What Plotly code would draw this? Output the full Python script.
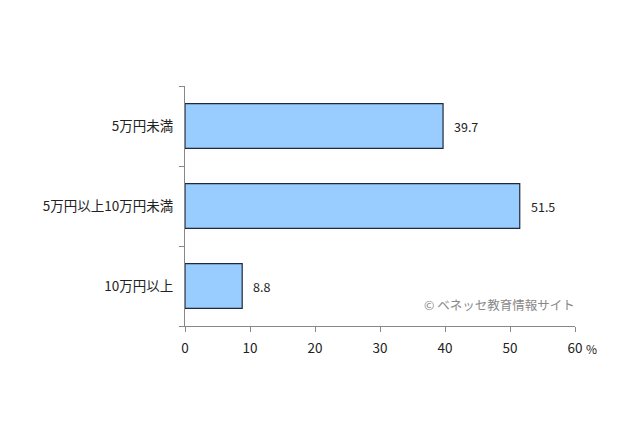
import plotly.graph_objects as go

categories = ["5万円未満", "5万円以上10万円未満", "10万円以上"]
values = [39.7, 51.5, 8.8]
value_labels = ["39.7", "51.5", "8.8"]
x_ticks = [0, 10, 20, 30, 40, 50, 60]

fig = go.Figure()
fig.add_trace(go.Bar(
    y=categories, x=values, orientation="h",
    marker=dict(color="#99CCFF", line=dict(color="#1f2a3a", width=1.2)),
    width=0.56,
))
for c, v, t in zip(categories, values, value_labels):
    fig.add_annotation(x=v, y=c, text=t, showarrow=False, xanchor="left", xshift=9,
                       font=dict(size=12.5, color="#222222"))
fig.update_layout(
    width=640, height=426,
    margin=dict(l=177, r=73, t=78, b=108, autoexpand=False),
    paper_bgcolor="white", plot_bgcolor="white",
    font=dict(family="Noto Sans CJK JP, sans-serif", size=13, color="#222222"),
    showlegend=False,
)
fig.update_xaxes(
    range=[0, 60], tickvals=x_ticks, ticktext=[str(v) for v in x_ticks],
    showgrid=False, zeroline=False, showline=True, linecolor="#888888", linewidth=1,
    ticks="outside", ticklen=5, tickcolor="#888888", tickfont=dict(size=13.5, color="#222222"),
    ticklabelstandoff=5, automargin=False,
)
fig.update_yaxes(
    categoryorder="array", categoryarray=categories[::-1],
    showgrid=False, zeroline=False, showline=True, linecolor="#888888", linewidth=1,
    ticks="outside", ticklen=5, tickcolor="#888888", tickson="boundaries",
    tickfont=dict(size=13.5, color="#222222"), ticklabelstandoff=8, automargin=False,
)
fig.add_annotation(x=60, y=0, xref="x", yref="paper", text="%", showarrow=False,
                   xanchor="left", yanchor="top", xshift=9, yshift=-12,
                   font=dict(size=12, color="#222222"))
fig.add_annotation(x=1.0, y=0.04, xref="paper", yref="paper", text="© ベネッセ教育情報サイト",
                   showarrow=False, xanchor="right", yanchor="bottom", xshift=2,
                   font=dict(size=12.5, color="#888888"))
fig.write_html("out.html")
